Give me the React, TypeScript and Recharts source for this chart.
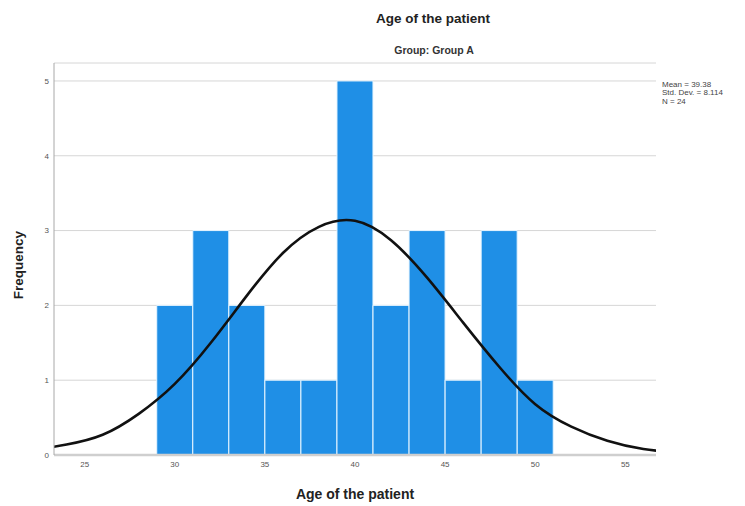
import { Bar, CartesianGrid, ComposedChart, Line, XAxis, YAxis } from 'recharts';

// histogram bins (width 2)
const binCenters = [30, 32, 34, 36, 38, 40, 42, 44, 46, 48, 50];
const binCounts = [2, 3, 2, 1, 1, 5, 2, 3, 1, 3, 1];

// normal curve, every 2 years (the ends run past the axis and are clipped)
const curveX = [22, 24, 26, 28, 30, 32, 34, 36, 38, 40, 42, 44, 46, 48, 50, 52, 54, 56, 58];
const curveY = [0.06, 0.14, 0.27, 0.55, 0.95, 1.5, 2.13, 2.7, 3.05, 3.13, 2.87, 2.37, 1.77, 1.18, 0.68, 0.38, 0.19, 0.08, 0.03];

const xTicks = [25, 30, 35, 40, 45, 50, 55];
const yTicks = [0, 1, 2, 3, 4, 5];

const statLines = ['Mean = 39.38', 'Std. Dev. = 8.114', 'N = 24'];

// one row per x so the bars keep the full 2-year band
const rows = curveX.map((x, i) => {
  const b = binCenters.indexOf(x);
  return { x, fit: curveY[i], count: b >= 0 ? binCounts[b] : undefined };
});

const font = '"Liberation Sans", Arial, sans-serif';

export default function App() {
  return (
    <div style={{ position: 'absolute', left: 0, top: 0, width: 745, height: 506, background: '#fff', fontFamily: font }}>
      <div style={{ position: 'absolute', left: 0, width: 866, top: 11, textAlign: 'center', fontSize: 13.5, fontWeight: 'bold', color: '#222' }}>
        Age of the patient
      </div>
      <div style={{ position: 'absolute', left: 0, width: 868, top: 44, textAlign: 'center', fontSize: 10.5, fontWeight: 'bold', color: '#333' }}>
        Group: Group A
      </div>
      <div style={{ position: 'absolute', left: 662, top: 81, fontSize: 8, lineHeight: '8.3px', color: '#444', whiteSpace: 'nowrap' }}>
        {statLines.map((s) => (
          <div key={s}>{s}</div>
        ))}
      </div>
      <div
        style={{
          position: 'absolute',
          left: 18,
          top: 265,
          transform: 'translate(-50%, -50%) rotate(-90deg)',
          fontSize: 13.5,
          fontWeight: 'bold',
          color: '#222',
        }}
      >
        Frequency
      </div>
      <div style={{ position: 'absolute', left: 0, width: 710, top: 486, textAlign: 'center', fontSize: 14, fontWeight: 'bold', color: '#222' }}>
        Age of the patient
      </div>
      <ComposedChart
        width={745}
        height={506}
        data={rows}
        margin={{ top: 63, right: 89, bottom: 21, left: 20 }}
        barCategoryGap={0}
        barGap={0}
      >
        <CartesianGrid horizontal vertical={false} stroke="#d6d6d6" strokeWidth={1} />
        <XAxis
          dataKey="x"
          type="number"
          domain={[23.3, 56.7]}
          ticks={xTicks}
          allowDataOverflow
          height={30}
          tickLine={false}
          tickSize={4}
          tickMargin={2}
          axisLine={{ stroke: '#cfcfcf', strokeWidth: 2.5 }}
          tick={{ fontSize: 8, fill: '#555', fontFamily: font }}
        />
        <YAxis
          type="number"
          domain={[0, 5.24]}
          ticks={yTicks}
          allowDataOverflow
          width={34}
          tickLine={false}
          tickSize={4}
          tickMargin={1}
          axisLine={{ stroke: '#a8a8a8', strokeWidth: 1 }}
          tick={{ fontSize: 8, fill: '#555', fontFamily: font }}
        />
        <Bar dataKey="count" fill="#1f8fe6" stroke="#e6f5ff" strokeWidth={1} isAnimationActive={false} />
        <Line
          dataKey="fit"
          type="natural"
          stroke="#111"
          strokeWidth={2.6}
          dot={false}
          activeDot={false}
          isAnimationActive={false}
        />
      </ComposedChart>
    </div>
  );
}
